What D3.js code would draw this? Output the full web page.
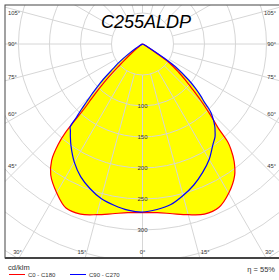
<!DOCTYPE html>
<html>
<head>
<meta charset="utf-8">
<script src="https://cdn.jsdelivr.net/npm/d3@7"></script>
<style>
  body { margin: 0; background: #fff; }
  svg { display: block; font-family: "Liberation Sans", Arial, sans-serif; }
</style>
</head>
<body>
<svg id="chart" width="279" height="280"></svg>
<script>
// gamma angles (degrees from nadir)
const angles = [0, 5, 10, 15, 20, 25, 30, 35, 38, 40, 41, 42, 43, 44, 45, 46, 47, 48, 50, 52, 55, 57, 60, 65, 70, 80, 90];
// cd/klm
const c0   = [272, 273, 278, 285, 292, 291, 278, 259, 240, 222, 210, 183, 168, 155, 142, 130, 118, 107, 90, 74, 52, 25, 8, 2, 0.5, 0, 0];
const c180 = [272, 273, 278, 285, 292, 292, 277, 258, 238, 212, 190, 140, 120, 103, 88, 70, 52, 40, 22, 12, 5, 3, 1.5, 0.5, 0, 0, 0];
const c90  = [271, 268, 263, 253, 242, 229, 215, 198, 190, 182, 178, 173, 168, 162, 156, 146, 135, 128, 112, 95, 68, 40, 12, 3, 1, 0, 0];
const c270 = [271, 269, 264, 258, 248, 236, 220, 201, 189, 181, 178, 160, 145, 130, 118, 106, 95, 85, 62, 48, 25, 14, 5, 1.5, 0.5, 0, 0];

const ringValues = [50, 100, 150, 200, 250, 300, 350, 400, 450];
const ringLabels = [100, 150, 200, 250, 300];
const spokeAngles = d3.range(0, 360, 15);
const angleLabels = [0, 15, 30, 45, 60, 75, 90, 105];

const title = 'C255ALDP';
const unit = 'cd/klm';
const efficiency = 'η = 55%';

const svg = d3.select('#chart');
const cx = 142.5, cy = 44;
const frame = {x: 5, y: 5, w: 276, h: 253};

const r = d3.scaleLinear().domain([0, 50]).range([0, 31]);
const rad = d => d * Math.PI / 180;

svg.append('clipPath').attr('id', 'clip')
    .append('rect')
    .attr('x', frame.x).attr('y', frame.y)
    .attr('width', frame.w).attr('height', frame.h);

const plot = svg.append('g').attr('clip-path', 'url(#clip)');
const g = plot.append('g').attr('transform', `translate(${cx},${cy})`);

function curvePoints(right, left) {
    const pts = [];
    for (let i = angles.length - 1; i >= 0; i--) pts.push([Math.PI + rad(angles[i]), r(left[i])]);
    for (let i = 1; i < angles.length; i++) pts.push([Math.PI - rad(angles[i]), r(right[i])]);
    return pts;
}

const line = d3.lineRadial()
    .angle(d => d[0])
    .radius(d => d[1])
    .curve(d3.curveCatmullRom.alpha(0.5));

const redPts = curvePoints(c0, c180);
const bluePts = curvePoints(c90, c270);

// fill
g.append('path').attr('d', line(redPts)).attr('fill', '#ffff00');
g.append('path').attr('d', line(bluePts)).attr('fill', '#ffff00');

// grid
g.selectAll('.ring')
    .data(ringValues)
    .enter()
    .append('circle')
    .attr('r', d => r(d))
    .attr('fill', 'none')
    .attr('stroke', '#d6d6d6')
    .attr('stroke-width', 1);

g.selectAll('.spoke')
    .data(spokeAngles)
    .enter()
    .append('line')
    .attr('x1', d => r(50) * Math.sin(rad(d)))
    .attr('y1', d => r(50) * Math.cos(rad(d)))
    .attr('x2', d => r(600) * Math.sin(rad(d)))
    .attr('y2', d => r(600) * Math.cos(rad(d)))
    .attr('stroke', '#d6d6d6')
    .attr('stroke-width', 1);

// curves
g.append('path').attr('d', line(redPts))
    .attr('fill', 'none').attr('stroke', '#ff0000').attr('stroke-width', 1.2);
g.append('path').attr('d', line(bluePts))
    .attr('fill', 'none').attr('stroke', '#0000ff').attr('stroke-width', 1.2);

// ring labels
g.selectAll('.rlabel')
    .data(ringLabels)
    .enter()
    .append('text')
    .attr('x', 0)
    .attr('y', d => r(d))
    .attr('dy', '0.35em')
    .attr('text-anchor', 'middle')
    .style('font-size', '6px')
    .style('fill', '#333')
    .text(d => d);

// angle labels
const bottomY = 252 - cy;
const side = 122;
angleLabels.forEach(a => {
    [1, -1].forEach(s => {
        if (a === 0 && s === -1) return;
        const t = Math.tan(rad(a));
        let x, y, anchor;
        if (a < 90 && bottomY * t < side) {
            y = bottomY;
            const xs = bottomY * t;
            if (a === 0) { x = 0; anchor = 'middle'; }
            else if (s > 0) { x = xs + 2.5; anchor = 'start'; }
            else { x = -xs - 0.5; anchor = 'end'; }
        } else {
            y = Math.abs(a - 90) < 1e-6 ? 0 : side / Math.tan(rad(a));
            y = Math.max(y, 13 - cy);
            x = s > 0 ? 276 - cx : 8 - cx;
            anchor = s > 0 ? 'end' : 'start';
        }
        g.append('text')
            .attr('x', x)
            .attr('y', y)
            .attr('dy', '0.35em')
            .attr('text-anchor', anchor)
            .style('font-size', '5.8px')
            .style('fill', '#333')
            .text(a + '°');
    });
});

// title
svg.append('text')
    .attr('x', 146)
    .attr('y', 28)
    .attr('text-anchor', 'middle')
    .style('font-size', '18px')
    .style('font-style', 'italic')
    .style('fill', '#000')
    .text(title);

// frame
svg.append('rect')
    .attr('x', frame.x).attr('y', frame.y)
    .attr('width', frame.w).attr('height', frame.h)
    .attr('fill', 'none')
    .attr('stroke', '#444')
    .attr('stroke-width', 1);
svg.append('line')
    .attr('x1', frame.x).attr('x2', 279)
    .attr('y1', frame.y + frame.h).attr('y2', frame.y + frame.h)
    .attr('stroke', '#444')
    .attr('stroke-width', 2);

// legend
svg.append('text')
    .attr('x', 8).attr('y', 270)
    .style('font-size', '7.5px').style('fill', '#333')
    .text(unit);

const legend = [
    {name: 'C0 - C180', color: '#ff0000', x: 9},
    {name: 'C90 - C270', color: '#0000ff', x: 70}
];
legend.forEach(l => {
    svg.append('line')
        .attr('x1', l.x).attr('x2', l.x + 16)
        .attr('y1', 274.5).attr('y2', 274.5)
        .attr('stroke', l.color).attr('stroke-width', 1);
    svg.append('text')
        .attr('x', l.x + 19).attr('y', 277)
        .style('font-size', '6px').style('fill', '#333')
        .text(l.name);
});

svg.append('text')
    .attr('x', 275).attr('y', 272)
    .attr('text-anchor', 'end')
    .style('font-size', '7.5px').style('fill', '#333')
    .text(efficiency);
</script>
</body>
</html>
